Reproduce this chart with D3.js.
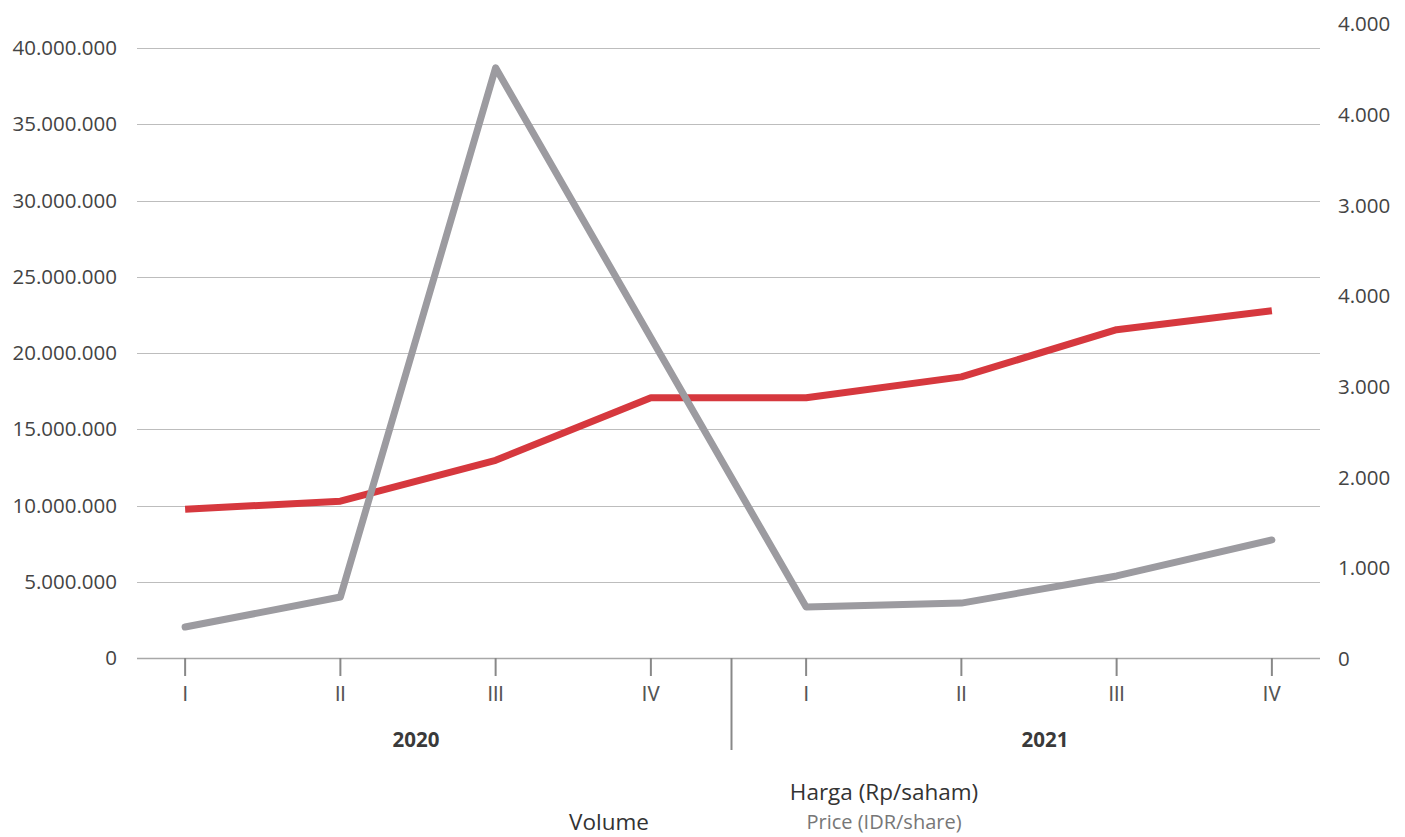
<!DOCTYPE html>
<html>
<head>
<meta charset="utf-8">
<script src="https://cdn.jsdelivr.net/npm/d3@7"></script>
<style>
  body { margin: 0; background: #fff; }
  svg text { font-family: "Open Sans", "Noto Sans", sans-serif; }
</style>
</head>
<body>
<div id="chart"></div>
<script>
// Quarters and years
const quarters = ["I", "II", "III", "IV", "I", "II", "III", "IV"];
const years = ["2020", "2021"];

// Volume (left axis) and price (right axis)
const volume = [2030000, 4000000, 38700000, 21000000, 3340000, 3600000, 5380000, 7740000];
const price = [1650, 1740, 2190, 2880, 2880, 3110, 3630, 3840];

// Axis ticks
const leftTicks = [0, 5000000, 10000000, 15000000, 20000000, 25000000, 30000000, 35000000, 40000000];
const rightTicks = [0, 1000, 2000, 3000, 4000, 5000, 6000, 7000];
const rightTickLabels = ["0", "1.000", "2.000", "3.000", "4.000", "3.000", "4.000", "4.000"];

function renderChart() {
    const W = 1405, H = 837;
    const margin = { top: 24, left: 137, right: 85, bottom: 179 };
    const x0 = margin.left, x1 = W - margin.right;
    const yBase = H - margin.bottom;

    const svg = d3.select("#chart").append("svg")
        .attr("width", W)
        .attr("height", H);

    const idx = d3.range(quarters.length);
    const x = d3.scalePoint()
        .domain(idx)
        .range([x0, x1])
        .padding(0.31);

    const yL = d3.scaleLinear().domain([0, 40000000]).range([yBase, 48]);
    const yR = d3.scaleLinear().domain([0, 7000]).range([yBase + 1, margin.top]);

    const fmt = d3.formatLocale({ decimal: ",", thousands: ".", grouping: [3], currency: ["", ""] }).format(",d");

    // Gridlines
    svg.append("g")
        .selectAll("line")
        .data(leftTicks)
        .join("line")
        .attr("x1", x0).attr("x2", x1)
        .attr("y1", d => Math.round(yL(d)) + 0.5)
        .attr("y2", d => Math.round(yL(d)) + 0.5)
        .attr("stroke", d => d === 0 ? "#a8a8a8" : "#bdbdbd")
        .attr("stroke-width", d => d === 0 ? 1.5 : 1);

    // Left axis labels
    svg.append("g")
        .selectAll("text")
        .data(leftTicks)
        .join("text")
        .attr("x", 117)
        .attr("y", d => yL(d))
        .attr("dy", "0.35em")
        .attr("text-anchor", "end")
        .attr("fill", "#444")
        .style("font-size", "20.5px")
        .text(d => fmt(d));

    // Right axis labels
    svg.append("g")
        .selectAll("text")
        .data(rightTicks)
        .join("text")
        .attr("x", 1338)
        .attr("y", d => yR(d))
        .attr("dy", "0.35em")
        .attr("text-anchor", "start")
        .attr("fill", "#444")
        .style("font-size", "20.5px")
        .text((d, i) => rightTickLabels[i]);

    // Quarter ticks and labels
    const xt = svg.append("g");
    xt.selectAll("line")
        .data(idx)
        .join("line")
        .attr("x1", d => x(d)).attr("x2", d => x(d))
        .attr("y1", yBase).attr("y2", yBase + 18)
        .attr("stroke", "#888")
        .attr("stroke-width", 2);
    xt.selectAll("text")
        .data(idx)
        .join("text")
        .attr("x", d => x(d))
        .attr("y", yBase + 36)
        .attr("dy", "0.35em")
        .attr("text-anchor", "middle")
        .attr("fill", "#555")
        .style("font-family", "'Liberation Sans Narrow', 'Roboto', sans-serif")
        .style("font-size", "20px")
        .text(d => quarters[d]);

    // Year separator
    const sepX = (x(3) + x(4)) / 2 + 3;
    svg.append("line")
        .attr("x1", sepX).attr("x2", sepX)
        .attr("y1", yBase).attr("y2", yBase + 92)
        .attr("stroke", "#888")
        .attr("stroke-width", 2);

    // Year labels
    svg.append("g")
        .selectAll("text")
        .data(years)
        .join("text")
        .attr("x", (d, i) => (x(i * 4) + x(i * 4 + 3)) / 2 + (i === 1 ? 6 : -2))
        .attr("y", yBase + 82)
        .attr("dy", "0.35em")
        .attr("text-anchor", "middle")
        .attr("fill", "#3a3a3a")
        .style("font-size", "20.5px")
        .style("font-weight", "bold")
        .text(d => d);

    // Price line (red)
    svg.append("path")
        .datum(idx)
        .attr("fill", "none")
        .attr("stroke", "#d6383e")
        .attr("stroke-width", 7)
        .attr("stroke-linejoin", "round")
        .attr("d", d3.line().x(d => x(d)).y(d => yR(price[d])));

    // Volume line (gray)
    svg.append("path")
        .datum(idx)
        .attr("fill", "none")
        .attr("stroke", "#9c9ba0")
        .attr("stroke-width", 7)
        .attr("stroke-linecap", "round")
        .attr("stroke-linejoin", "round")
        .attr("d", d3.line().x(d => x(d)).y(d => yL(volume[d])));

    // Legend texts
    svg.append("text")
        .attr("x", 884).attr("y", 792)
        .attr("dy", "0.35em")
        .attr("text-anchor", "middle")
        .attr("fill", "#333")
        .style("font-size", "22.5px")
        .text("Harga (Rp/saham)");
    svg.append("text")
        .attr("x", 884).attr("y", 822)
        .attr("dy", "0.35em")
        .attr("text-anchor", "middle")
        .attr("fill", "#777")
        .style("font-size", "20px")
        .text("Price (IDR/share)");
    svg.append("text")
        .attr("x", 609).attr("y", 822)
        .attr("dy", "0.35em")
        .attr("text-anchor", "middle")
        .attr("fill", "#333")
        .style("font-size", "22.5px")
        .text("Volume");
}

document.addEventListener('DOMContentLoaded', renderChart);
</script>
</body>
</html>
